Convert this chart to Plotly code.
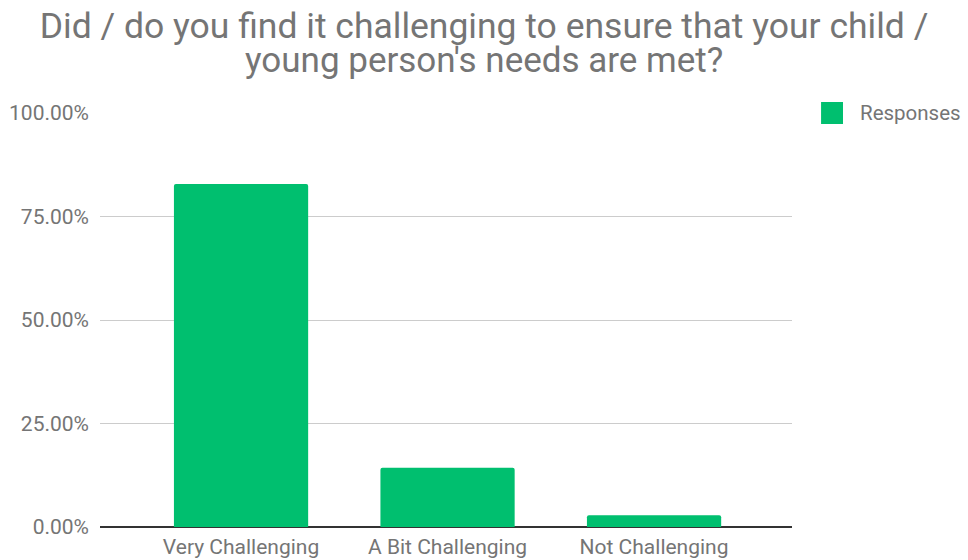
import plotly.graph_objects as go

categories = ["Very Challenging", "A Bit Challenging", "Not Challenging"]
responses = [0.8286, 0.1429, 0.0286]
series_name = "Responses"
y_ticks = [0, 0.25, 0.5, 0.75, 1.0]
y_tick_labels = ["0.00%", "25.00%", "50.00%", "75.00%", "100.00%"]
title_lines = ["Did / do you find it challenging to ensure that your child /",
               "young person's needs are met?"]

GREEN = "#00BF6F"
GREY_TEXT = "#757575"
FONT = "Roboto"

fig = go.Figure()
fig.add_trace(go.Bar(
    x=categories,
    y=responses,
    name=series_name,
    marker=dict(color=GREEN, line=dict(width=0)),
    width=0.65,
    showlegend=False,
))

# manual legend (larger swatch than plotly's built-in legend allows)
fig.add_shape(type="rect", xref="paper", yref="paper",
              x0=1.042, x1=1.0737, y0=0.9734, y1=1.0266,
              fillcolor=GREEN, line=dict(width=0), layer="above")
fig.add_annotation(text=series_name, xref="paper", yref="paper",
                   x=1.0954, y=1.0, xanchor="left", yanchor="middle",
                   showarrow=False,
                   font=dict(family=FONT, size=20.5, color=GREY_TEXT))

# second title line (tighter line spacing than plotly's <br>)
fig.add_annotation(text=title_lines[1], xref="paper", yref="paper",
                   x=0.5549, y=1.128, xanchor="center", yanchor="middle",
                   showarrow=False,
                   font=dict(family=FONT, size=35, color=GREY_TEXT))

fig.update_layout(
    width=968, height=560,
    paper_bgcolor="white", plot_bgcolor="white",
    margin=dict(l=100, r=176, t=113, b=33, autoexpand=False),
    barcornerradius=2,
    font=dict(family=FONT, color=GREY_TEXT, size=21),
    title=dict(
        text=title_lines[0],
        x=0.5, xanchor="center", xref="container",
        y=1 - 26 / 560, yanchor="middle", yref="container",
        font=dict(family=FONT, size=35.5, color=GREY_TEXT),
    ),
    showlegend=False,
    xaxis=dict(
        range=[-0.683, 2.668],
        showgrid=False, showline=False, zeroline=False,
        ticks="", ticklabelstandoff=5, automargin=False,
        tickfont=dict(family=FONT, size=21, color=GREY_TEXT),
        fixedrange=True,
    ),
    yaxis=dict(
        range=[0, 1.0],
        tickvals=y_ticks, ticktext=y_tick_labels,
        showgrid=True, gridcolor="#CCCCCC", gridwidth=1,
        zeroline=True, zerolinecolor="#333333", zerolinewidth=2,
        showline=False, ticks="", automargin=False,
        ticklabelstandoff=10,
        tickfont=dict(family=FONT, size=21, color=GREY_TEXT),
        fixedrange=True,
    ),
)

fig.write_html(
    "out.html",
    config={"displayModeBar": False},
    post_script="document.body.style.margin='0';document.body.style.overflow='hidden';",
)
